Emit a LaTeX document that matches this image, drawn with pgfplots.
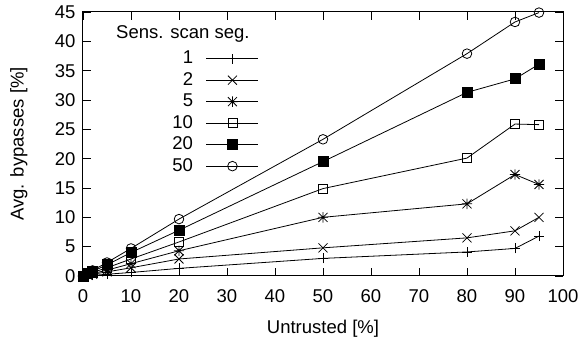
\documentclass[border=0pt]{standalone}
\usepackage{fontspec}
\setmainfont{Liberation Sans}
\usepackage{pgfplots}
\pgfplotsset{compat=1.18}
\pgfdeclareplotmark{gpplus}{%
  \pgfpathmoveto{\pgfqpoint{-\pgfplotmarksize}{0pt}}\pgfpathlineto{\pgfqpoint{\pgfplotmarksize}{0pt}}%
  \pgfpathmoveto{\pgfqpoint{0pt}{-\pgfplotmarksize}}\pgfpathlineto{\pgfqpoint{0pt}{\pgfplotmarksize}}%
  \pgfusepathqstroke}
\pgfdeclareplotmark{gpx}{%
  \pgfpathmoveto{\pgfqpoint{-\pgfplotmarksize}{-\pgfplotmarksize}}\pgfpathlineto{\pgfqpoint{\pgfplotmarksize}{\pgfplotmarksize}}%
  \pgfpathmoveto{\pgfqpoint{-\pgfplotmarksize}{\pgfplotmarksize}}\pgfpathlineto{\pgfqpoint{\pgfplotmarksize}{-\pgfplotmarksize}}%
  \pgfusepathqstroke}
\pgfdeclareplotmark{gpstar}{%
  \pgfpathmoveto{\pgfqpoint{-1.15\pgfplotmarksize}{0pt}}\pgfpathlineto{\pgfqpoint{1.15\pgfplotmarksize}{0pt}}%
  \pgfpathmoveto{\pgfqpoint{0pt}{-1.15\pgfplotmarksize}}\pgfpathlineto{\pgfqpoint{0pt}{1.15\pgfplotmarksize}}%
  \pgfpathmoveto{\pgfqpoint{-\pgfplotmarksize}{-\pgfplotmarksize}}\pgfpathlineto{\pgfqpoint{\pgfplotmarksize}{\pgfplotmarksize}}%
  \pgfpathmoveto{\pgfqpoint{-\pgfplotmarksize}{\pgfplotmarksize}}\pgfpathlineto{\pgfqpoint{\pgfplotmarksize}{-\pgfplotmarksize}}%
  \pgfusepathqstroke}
\begin{document}
\begin{tikzpicture}
\begin{axis}[
  scale only axis,
  width=480pt, height=264pt,
  xmin=0, xmax=100, ymin=0, ymax=45,
  xtick={0,10,...,100}, ytick={0,5,...,45},
  tick align=inside,
  major tick length=8pt,
  tick style={line width=0.8pt, black},
  axis line style={line width=1pt},
  /pgf/number format/assume math mode=true,
  ticklabel style={font=\fontsize{18.5}{20}\selectfont},
  label style={font=\fontsize{18.5}{20}\selectfont},
  xlabel={Untrusted [\%]},
  ylabel={Avg. bypasses [\%]},
  xlabel style={at={(axis description cs:0.5,0)}, anchor=north, yshift=-41pt},
  ylabel style={at={(axis description cs:0,0.5)}, anchor=south, yshift=52pt},
  xticklabel style={yshift=-10pt},
  yticklabel style={xshift=-4pt},
  every axis plot/.append style={black, line width=0.8pt, mark options={solid, line width=0.8pt}},
  legend plot pos=right,
  legend cell align=right,
  legend style={draw=none, fill=none, at={(axis description cs:0.373,0.862)}, anchor=north east,
    font=\fontsize{18.5}{20}\selectfont, row sep=5.5pt, column sep=13pt,
    nodes={inner sep=0pt, text height=13pt, text depth=3pt}},
  legend image code/.code={\draw[mark repeat=2, mark phase=2] plot coordinates {(0pt,0pt) (26pt,0pt) (52pt,0pt)};},
  clip=false,
]
\addplot[mark=gpplus, mark size=5pt] coordinates {(0,0) (1,0.05) (2,0.1) (5,0.3) (10,0.6) (20,1.3) (50,3.0) (80,4.1) (90,4.7) (95,6.8)};
\addlegendentry{1}
\addplot[mark=gpx, mark size=4.5pt] coordinates {(0,0) (1,0.15) (2,0.3) (5,0.7) (10,1.4) (20,2.9) (50,4.8) (80,6.5) (90,7.7) (95,10.0)};
\addlegendentry{2}
\addplot[mark=gpstar, mark size=4.5pt] coordinates {(0,0) (1,0.2) (2,0.4) (5,1.0) (10,2.1) (20,4.3) (50,10.0) (80,12.3) (90,17.3) (95,15.6)};
\addlegendentry{5}
\addplot[mark=square, mark size=4.5pt] coordinates {(0,0) (1,0.3) (2,0.6) (5,1.4) (10,2.9) (20,5.8) (50,14.9) (80,20.1) (90,25.9) (95,25.8)};
\addlegendentry{10}
\addplot[mark=square*, mark size=5pt] coordinates {(0,0) (1,0.4) (2,0.8) (5,1.9) (10,4.0) (20,7.8) (50,19.5) (80,31.3) (90,33.6) (95,36.1)};
\addlegendentry{20}
\addplot[mark=o, mark size=4.8pt] coordinates {(0,0) (1,0.45) (2,0.95) (5,2.3) (10,4.7) (20,9.7) (50,23.3) (80,37.9) (90,43.3) (95,44.9)};
\addlegendentry{50}
\node[font=\fontsize{18.5}{20}\selectfont, anchor=center] at (axis description cs:0.208,0.918) {Sens. scan seg.};
\end{axis}
\pgfresetboundingbox
\path[use as bounding box] ([xshift=-83pt,yshift=-71pt]current axis.south west) rectangle ([xshift=21pt,yshift=12pt]current axis.north east);
\end{tikzpicture}
\end{document}
